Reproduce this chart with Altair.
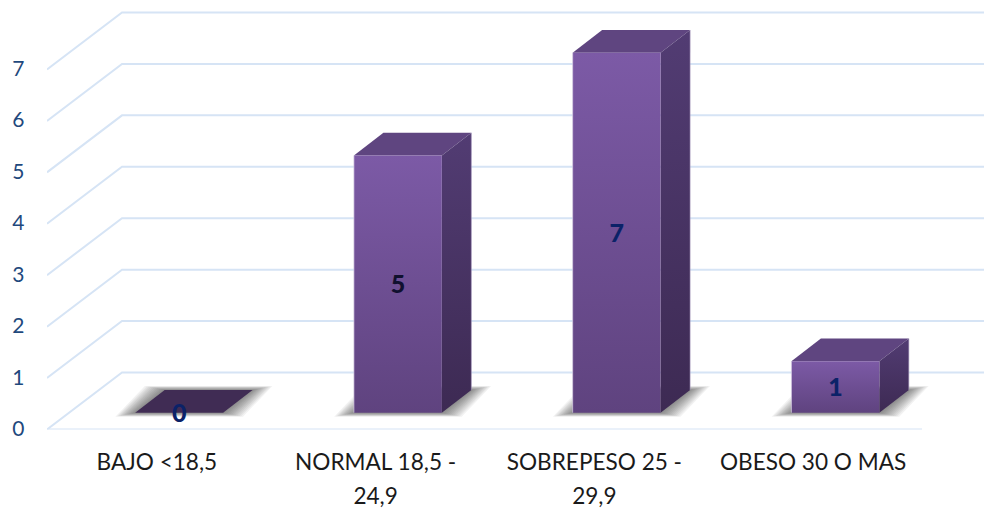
import json

import altair as alt
import pandas as pd

# Chart values
categories = [["BAJO <18,5"], ["NORMAL 18,5 -", "24,9"], ["SOBREPESO 25 -", "29,9"], ["OBESO 30 O MAS"]]
counts = [0, 5, 7, 1]
count_colors = ["#0b2268", "#10102e", "#0b2268", "#0b2268"]
y_ticks = [0, 1, 2, 3, 4, 5, 6, 7]

# Plot-area layout, in pixels
PLOT_W, PLOT_H = 937, 429.5
PX_PER_CAT, PX_PER_UNIT = 218.75, 51.43

# 3D projection, expressed in scale units
WALL_DX, WALL_DY = 75 / PX_PER_CAT, 57 / PX_PER_UNIT
BAR_LEFT, BAR_WIDTH = 0.403, 0.402
BAR_DX, BAR_DY = 29.5 / PX_PER_CAT, 22.7 / PX_PER_UNIT
FLOOR = 16.8 / PX_PER_UNIT

x_scale = alt.Scale(domain=[0, PLOT_W / PX_PER_CAT], nice=False, zero=False)
y_scale = alt.Scale(domain=[0, PLOT_H / PX_PER_UNIT], nice=False, zero=False)

x_axis = alt.Axis(
    values=[i + 0.5 for i in range(len(categories))],
    labelExpr=f"{json.dumps(categories)}[floor(datum.value)]",
    labelFont="Lato", labelFontSize=22.6, labelColor="#1a1a1a", labelPadding=22,
    labelLineHeight=33.5, labelLimit=400, labelOverlap=False, labelBound=False, labelFlush=False,
    labelAngle=0, ticks=False, domain=False, grid=False, title=None,
)
y_axis = alt.Axis(
    values=y_ticks, format="d", labelFont="Lato", labelFontSize=21, labelColor="#1f497d",
    labelPadding=23, labelOverlap=False, labelBound=False, labelFlush=False,
    ticks=False, domain=False, grid=False, title=None,
)


def X(field):
    return alt.X(field, type="quantitative", scale=x_scale, axis=x_axis, stack=None)


def Y(field):
    return alt.Y(field, type="quantitative", scale=y_scale, axis=y_axis, stack=None)


def vertical_gradient(top, bottom):
    return alt.LinearGradient(
        gradient="linear", x1=0, x2=0, y1=0, y2=1,
        stops=[alt.GradientStop(color=top, offset=0), alt.GradientStop(color=bottom, offset=1)],
    )


# Grid: left wall plus back wall for each tick, and the front edge of the floor
grid_rows = []
for v in y_ticks:
    grid_rows += [
        {"id": v, "o": 0, "x": 0, "y": v},
        {"id": v, "o": 1, "x": WALL_DX, "y": v + WALL_DY},
        {"id": v, "o": 2, "x": 4 + WALL_DX, "y": v + WALL_DY},
    ]
grid_rows += [{"id": -1, "o": 0, "x": 0, "y": 0}, {"id": -1, "o": 1, "x": 4, "y": 0}]
grid = alt.Chart(pd.DataFrame(grid_rows)).mark_line(color="#d6e4f5", strokeWidth=2, clip=True).encode(
    x=X("x"), y=Y("y"), detail="id:N", order="o:Q",
)

# Per-bar geometry
bars = []
for i, c in enumerate(counts):
    left = i + BAR_LEFT
    bars.append({
        "i": i, "c": c, "tone": count_colors[i], "xl": left, "xr": left + BAR_WIDTH,
        "xm": left + BAR_WIDTH / 2, "base": FLOOR, "top": FLOOR + c, "mid": FLOOR + c / 2,
        "xb": left + BAR_WIDTH + BAR_DX, "base_b": FLOOR + BAR_DY, "top_b": FLOOR + c + BAR_DY,
    })
bars_df = pd.DataFrame(bars)

# Soft floor shadow: nested parallelograms, widest drawn first
shadow_rows = []
for b in bars:
    for k in range(11, 0, -1):
        ex, ey = k * 1.8 / PX_PER_CAT, k * 0.36 / PX_PER_UNIT
        sid = f"{b['i']}-{k}"
        shadow_rows += [
            {"id": sid, "y": b["base"] - ey, "x0": b["xl"] - ex, "x1": b["xr"] + ex},
            {"id": sid, "y": b["base"] + BAR_DY + ey, "x0": b["xl"] + BAR_DX - ex, "x1": b["xr"] + BAR_DX + ex},
        ]
shadow = alt.Chart(pd.DataFrame(shadow_rows)).mark_area(orient="horizontal", color="#2a2a2a", opacity=0.06).encode(
    y=Y("y"), x=X("x0"), x2="x1:Q", detail="id:N",
)

# Top face of each bar
top_rows = []
for b in bars:
    top_rows += [
        {"i": b["i"], "empty": b["c"] == 0, "y": b["top"], "x0": b["xl"], "x1": b["xr"]},
        {"i": b["i"], "empty": b["c"] == 0, "y": b["top"] + BAR_DY, "x0": b["xl"] + BAR_DX, "x1": b["xr"] + BAR_DX},
    ]
top_df = pd.DataFrame(top_rows)
top_full = alt.Chart(top_df[~top_df["empty"]]).mark_area(orient="horizontal", color="#5f4580").encode(
    y=Y("y"), x=X("x0"), x2="x1:Q", detail="i:N",
)
top_empty = alt.Chart(top_df[top_df["empty"]]).mark_area(orient="horizontal", color="#402c54").encode(
    y=Y("y"), x=X("x0"), x2="x1:Q", detail="i:N",
)

# Right side face of each bar
side_rows = []
for b in bars:
    if b["c"] > 0:
        side_rows += [
            {"i": b["i"], "x": b["xr"], "y0": b["base"], "y1": b["top"]},
            {"i": b["i"], "x": b["xr"] + BAR_DX, "y0": b["base"] + BAR_DY, "y1": b["top"] + BAR_DY},
        ]
side = alt.Chart(pd.DataFrame(side_rows)).mark_area(
    color=vertical_gradient("#523c73", "#3d2a53")
).encode(x=X("x"), y=Y("y1"), y2="y0:Q", detail="i:N")

# Front face of each bar
standing = bars_df[bars_df["c"] > 0]
front = alt.Chart(standing).mark_rect(
    color=vertical_gradient("#7c5aa6", "#5f437f")
).encode(x=X("xl"), x2="xr:Q", y=Y("top"), y2="base:Q")

# Pale highlights along the outer vertical edges
edge_left = alt.Chart(standing).mark_rule(color="#d8d0e6", strokeWidth=1, opacity=0.7).encode(
    x=X("xl"), y=Y("top"), y2="base:Q"
)
edge_right = alt.Chart(standing).mark_rule(color="#a99bc0", strokeWidth=1, opacity=0.6).encode(
    x=X("xb"), y=Y("top_b"), y2="base_b:Q"
)

# Value labels centred on the front faces
labels = alt.Chart(bars_df).mark_text(
    font="Lato", fontWeight=900, fontSize=25, baseline="middle", align="center", dy=1
).encode(x=X("xm"), y=Y("mid"), text="c:Q", color=alt.Color("tone:N", scale=None))

chart = (
    alt.layer(grid, shadow, top_empty, top_full, side, front, edge_left, edge_right, labels)
    .properties(
        width=PLOT_W,
        height=PLOT_H,
        padding={"left": 47, "right": 0, "top": 0, "bottom": 78.5},
        autosize=alt.AutoSizeParams(type="none"),
        background="white",
    )
    .configure_view(stroke=None)
)

chart.save("out.html", embed_options={"renderer": "svg", "actions": False})
